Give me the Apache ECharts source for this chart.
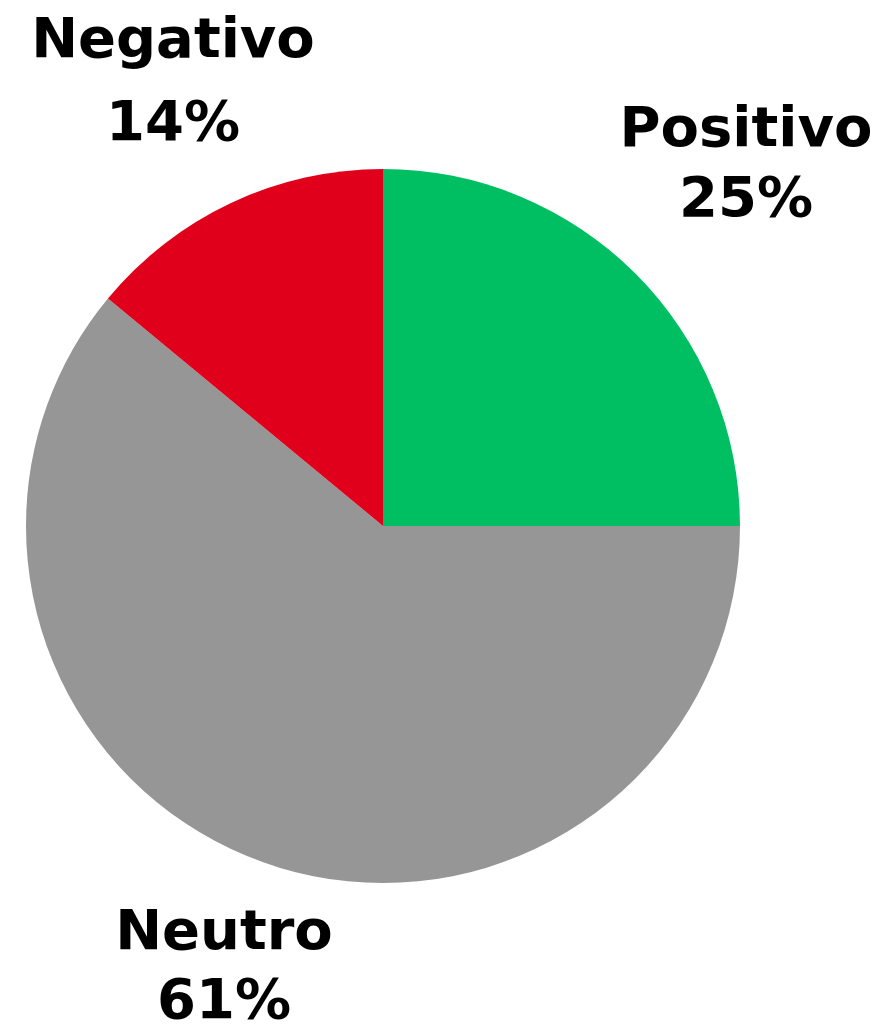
<!DOCTYPE html>
<html>
<head>
<meta charset="utf-8">
<script src="https://cdn.jsdelivr.net/npm/echarts@6/dist/echarts.min.js"></script>
<style>
html,body{margin:0;padding:0;background:#fff;}
#main{width:880px;height:1027px;}
</style>
</head>
<body>
<div id="main"></div>
<script>
const categories = ['Positivo', 'Neutro', 'Negativo'];
const values = [25, 61, 14];
const colors = ['#00BF63', '#969696', '#E1001B'];

const labelPlace = [
  { x: 746, y: 166, lh: 70 },
  { x: 224, y: 969, lh: 69 },
  { x: 173, y: 84, lh: 83 }
];

const chart = echarts.init(document.getElementById('main'), null, { renderer: 'canvas' });
chart.setOption({
  animation: false,
  series: [{
    type: 'pie',
    center: [383, 526],
    radius: 357,
    startAngle: 90,
    clockwise: true,
    silent: true,
    itemStyle: { borderWidth: 0 },
    label: {
      show: true,
      position: 'outside',
      overflow: 'none',
      edgeDistance: 0,
      formatter: p => p.name + '\n' + p.value + '%',
      fontFamily: 'DejaVu Sans',
      fontWeight: 'bold',
      fontSize: 56,
      color: '#000'
    },
    labelLine: { show: false },
    labelLayout: function (params) {
      const p = labelPlace[params.dataIndex];
      return { x: p.x, y: p.y, align: 'center', verticalAlign: 'middle', hideOverlap: false };
    },
    data: categories.map((c, i) => ({
      name: c,
      value: values[i],
      itemStyle: { color: colors[i] },
      label: { lineHeight: labelPlace[i].lh }
    }))
  }]
});
</script>
</body>
</html>
